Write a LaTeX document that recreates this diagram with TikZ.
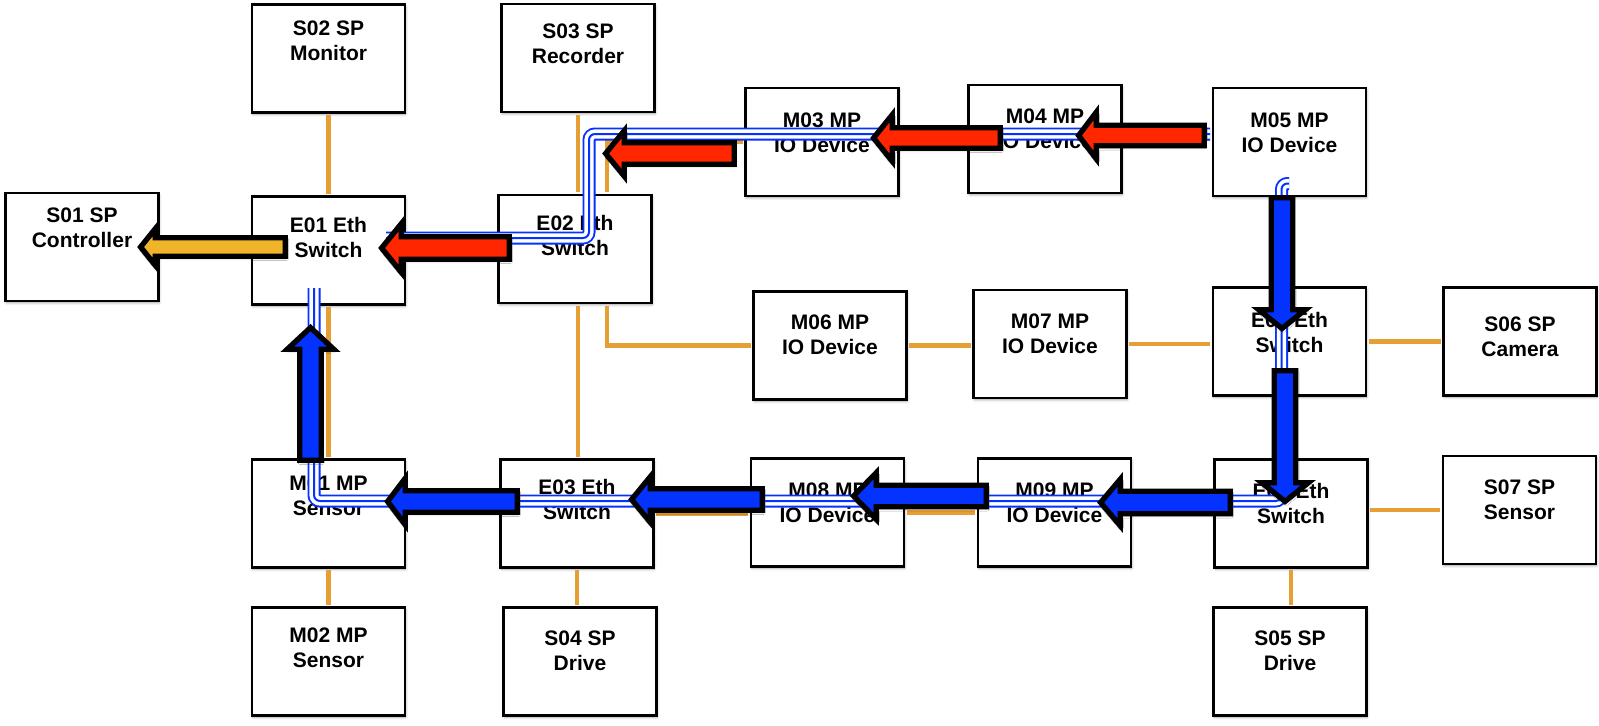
\documentclass[tikz,border=0pt]{standalone}
\usepackage{fontspec}
\setmainfont{Liberation Sans}
\usetikzlibrary{shadows.blur}

\definecolor{wireorange}{RGB}{230,159,52}
\definecolor{flowblue}{RGB}{4,51,255}
\definecolor{flowred}{RGB}{255,38,0}
\definecolor{flowgold}{RGB}{240,180,42}

\tikzset{
  unit/.style={draw=black, fill=white, line width=2.2pt,
    minimum width=114.75pt, minimum height=81pt, inner sep=0pt,
    blur shadow={shadow xshift=0.6pt, shadow yshift=-1.4pt,
      shadow blur radius=1.8pt, shadow opacity=35}},
  caption/.style={anchor=north, inner sep=0pt, align=center,
    font=\bfseries\fontsize{15.75pt}{18.4pt}\selectfont},
  cable/.style={draw=wireorange, line width=3.5pt,
    shorten <=1.1pt, shorten >=1.1pt},
  trail/.style={draw=flowblue, line width=9.75pt, rounded corners=4.5pt,
    postaction={draw=white, line width=6.9pt},
    postaction={draw=flowblue, line width=1.5pt}},
  flowarrow/.style={draw=black, line width=4pt, line join=miter,
    blur shadow={shadow xshift=0.6pt, shadow yshift=-1.4pt,
      shadow blur radius=1.8pt, shadow opacity=35}},
}

% block arrow: fill, tip coordinate, direction, length, head length,
% head half-width, shaft half-width (outer sizes, in px)
\newcommand\blockarrow[7]{%
  \begin{scope}[shift={(#2)}, rotate=#3, x=0.75pt, y=0.75pt]
    \draw[flowarrow, fill=#1] (-3.6,0)
      -- ({-(#5)+2.7},{#6-4.2}) -- ({-(#5)+2.7},{#7-2.7})
      -- ({-(#4)+2.7},{#7-2.7}) -- ({-(#4)+2.7},{-(#7)+2.7})
      -- ({-(#5)+2.7},{-(#7)+2.7}) -- ({-(#5)+2.7},{-(#6)+4.2}) -- cycle;
  \end{scope}}

\begin{document}
\begin{tikzpicture}[x=0.75pt, y=-0.75pt]
\useasboundingbox (0,0) rectangle (1599,725);

% device boxes
\node[unit] (s02) at (328.5,58.5) {};
\node[unit] (s03) at (578,58) {};
\node[unit] (s01) at (82,247) {};
\node[unit] (e01) at (328.5,250.5) {};
\node[unit] (e02) at (575,249) {};
\node[unit] (m03) at (822,142) {};
\node[unit] (m04) at (1045,139) {};
\node[unit] (m05) at (1289.5,142) {};
\node[unit] (m06) at (830,345.5) {};
\node[unit] (m07) at (1050,344) {};
\node[unit] (e04) at (1289.5,341.5) {};
\node[unit] (s06) at (1520,341.5) {};
\node[unit] (m01) at (328.5,513.5) {};
\node[unit] (e03) at (577,513.5) {};
\node[unit] (m08) at (827.5,512.5) {};
\node[unit] (m09) at (1054.5,512.5) {};
\node[unit] (e05) at (1291,513.5) {};
\node[unit] (s07) at (1519.5,510) {};
\node[unit] (m02) at (328.5,661.5) {};
\node[unit] (s04) at (580,661.5) {};
\node[unit] (s05) at (1290,661.5) {};

% box captions
\node[caption] (ts02) at (328.5,21) {S02 SP\\Monitor};
\node[caption] (ts03) at (578,24) {S03 SP\\Recorder};
\node[caption] (ts01) at (82,208) {S01 SP\\Controller};
\node[caption] (te01) at (328.5,217) {E01 Eth\\Switch};
\node[caption] (te02) at (575,215) {E02 Eth\\Switch};
\node[caption] (tm03) at (822,113) {M03 MP\\IO Device};
\node[caption] (tm04) at (1045,109) {M04 MP\\IO Device};
\node[caption] (tm05) at (1289.5,113) {M05 MP\\IO Device};
\node[caption] (tm06) at (830,315) {M06 MP\\IO Device};
\node[caption] (tm07) at (1050,314) {M07 MP\\IO Device};
\node[caption] (te04) at (1289.5,312) {E04 Eth\\Switch};
\node[caption] (ts06) at (1520,317) {S06 SP\\Camera};
\node[caption] (tm01) at (328.5,476) {M01 MP\\Sensor};
\node[caption] (te03) at (577,479) {E03 Eth\\Switch};
\node[caption] (tm08) at (827.5,483) {M08 MP\\IO Device};
\node[caption] (tm09) at (1054.5,483) {M09 MP\\IO Device};
\node[caption] (te05) at (1291,483) {E05 Eth\\Switch};
\node[caption] (ts07) at (1519.5,480) {S07 SP\\Sensor};
\node[caption] (tm02) at (328.5,628) {M02 MP\\Sensor};
\node[caption] (ts04) at (580,631) {S04 SP\\Drive};
\node[caption] (ts05) at (1290,631) {S05 SP\\Drive};

% network cabling, border to border
\draw[cable] (s02.south) -- (s02.south |- e01.north);
\draw[cable] (s03.south) -- (s03.south |- e02.north);
\draw[cable] (s01.east) -- (s01.east -| e01.west);
\draw[cable] (e01.east) -- (e01.east -| e02.west);
\draw[cable] ([xshift=24pt]e02.north) |- (m03.west);
\draw[cable] ([xshift=24pt]e02.south) |- (m06.west);
\draw[cable] (m03.east) -- (m03.east -| m04.west);
\draw[cable] (m04.east) -- (m04.east -| m05.west);
\draw[cable] (m05.south) -- (m05.south |- e04.north);
\draw[cable] (m06.east) -- (m06.east -| m07.west);
\draw[cable] (m07.east) -- (m07.east -| e04.west);
\draw[cable] (e04.east) -- (e04.east -| s06.west);
\draw[cable] (e04.south) -- (e04.south |- e05.north);
\draw[cable] (e01.south) -- (e01.south |- m01.north);
\draw[cable] (m01.south) -- (m01.south |- m02.north);
\draw[cable] (e02.south -| s03) -- (e03.north -| s03);
\draw[cable] (e03.south) -- (e03.south |- s04.north);
\draw[cable] (e03.east) -- (e03.east -| m08.west);
\draw[cable] (m08.east) -- (m08.east -| m09.west);
\draw[cable] (m09.east) -- (m09.east -| e05.west);
\draw[cable] (s07.west) -- (s07.west -| e05.east);
\draw[cable] (e05.south) -- (e05.south |- s05.north);

% traffic routes
\coordinate (ra0) at (1289,183.5);
\coordinate (ra1) at (1281.5,183.5);
\coordinate (ra2) at (1281.5,501);
\coordinate (ra3) at (314,501);
\coordinate (ra4) at (314,288);
\draw[trail] (ra0) -- (ra1) -- (ra2) -- (ra3) -- (ra4);

\coordinate (rb0) at (386,238);
\coordinate (rb1) at (589,238);
\coordinate (rb2) at (589,134);
\coordinate (rb3) at (1210,134);
\draw[trail] (rb0) -- (rb1) -- (rb2) -- (rb3);

% flow arrows
\coordinate (fy) at (137,247);
\coordinate (fr1) at (378,248);
\coordinate (fr2) at (602,153.5);
\coordinate (fr3) at (870,138);
\coordinate (fr4) at (1075,135.5);
\coordinate (fb1) at (1282,332);
\coordinate (fb2) at (1285,505);
\coordinate (fb3) at (1097,502.5);
\coordinate (fb4) at (850,496);
\coordinate (fb5) at (628,499.5);
\coordinate (fb6) at (384,501.5);
\coordinate (fb7) at (310.5,324);

\blockarrow{flowgold}{fy}{180}{151}{21}{22.5}{12}
\blockarrow{flowred}{fr1}{180}{134}{26}{28.5}{14}
\blockarrow{flowred}{fr2}{180}{135}{25}{27}{13.5}
\blockarrow{flowred}{fr3}{180}{133}{25}{27.5}{13}
\blockarrow{flowred}{fr4}{180}{132}{24}{27.5}{13}
\blockarrow{flowblue}{fb1}{-90}{137}{25}{27.5}{13.5}
\blockarrow{flowblue}{fb2}{-90}{137}{25}{27.5}{13.5}
\blockarrow{flowblue}{fb3}{180}{136}{26}{27.5}{14}
\blockarrow{flowblue}{fb4}{180}{139}{29}{27.5}{13.5}
\blockarrow{flowblue}{fb5}{180}{137}{25}{27}{13.5}
\blockarrow{flowblue}{fb6}{180}{136}{24}{27.5}{13.5}
\blockarrow{flowblue}{fb7}{90}{139}{28}{27.5}{13.5}
\end{tikzpicture}
\end{document}
